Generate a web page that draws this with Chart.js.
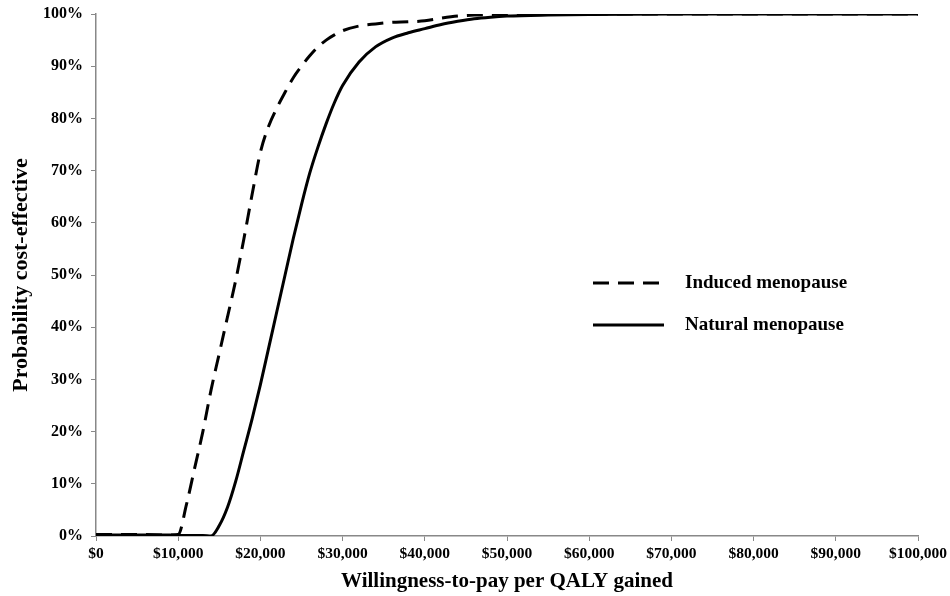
<!DOCTYPE html>
<html>
<head>
<meta charset="utf-8">
<script src="https://cdn.jsdelivr.net/npm/chart.js@4.4.0/dist/chart.umd.min.js"></script>
<style>
  html, body { margin: 0; padding: 0; background: #fff; }
  #wrap { width: 950px; height: 596px; }
</style>
</head>
<body>
<div id="wrap"><canvas id="ceac"></canvas></div>
<script>
// willingness-to-pay values ($ per QALY)
const wtp = [0, 5000, 9000, 10000, 11000, 12000, 13000, 14000, 15000, 16000, 17000, 18000,
  19000, 20000, 21000, 22000, 23000, 24000, 25000, 26000, 27000, 28000, 29000, 30000,
  32000, 34000, 36000, 38000, 40000, 42000, 44000, 46000, 48000, 50000, 55000, 60000,
  70000, 80000, 90000, 100000];

// probability cost-effective (%)
const induced = [0.3, 0.3, 0.2, 0.3, 6, 13, 20, 28, 35, 42, 49, 57,
  65.5, 73.5, 78.5, 82, 85, 87.8, 90, 92, 93.7, 95, 96, 96.8,
  97.7, 98.1, 98.4, 98.5, 98.7, 99.2, 99.6, 99.8, 99.9, 100, 100, 100,
  100, 100, 100, 100];

const natural = [0.2, 0.2, 0.2, 0.1, 0.1, 0.1, 0.1, 0, 2, 5.5, 10.5, 16.5,
  22.5, 29, 36, 43, 50, 57, 63.5, 69.5, 74.5, 79, 83, 86.3,
  90.8, 93.7, 95.4, 96.4, 97.2, 98, 98.6, 99.1, 99.4, 99.6, 99.8, 99.9,
  100, 100, 100, 100];

const seriesLabels = ['Induced menopause', 'Natural menopause'];
const xTickStep = 10000;
const yTickStep = 10;

const serif = "'Liberation Serif', 'Times New Roman', serif";

function toPoints(ys) {
  return wtp.map((x, i) => ({ x: x, y: ys[i] }));
}

// legend drawn inside the plot area
const innerLegend = {
  id: 'innerLegend',
  afterDraw(chart) {
    const ctx = chart.ctx;
    const rows = [{ y: 283, dash: [16, 9] }, { y: 325, dash: [] }];
    ctx.save();
    chart.data.datasets.forEach((ds, i) => {
      const r = rows[i];
      ctx.beginPath();
      ctx.setLineDash(r.dash);
      ctx.lineWidth = 3;
      ctx.strokeStyle = '#000';
      ctx.moveTo(593, r.y);
      ctx.lineTo(664, r.y);
      ctx.stroke();
      ctx.setLineDash([]);
      ctx.fillStyle = '#000';
      ctx.font = 'bold 19px ' + serif;
      ctx.textBaseline = 'middle';
      ctx.textAlign = 'left';
      ctx.fillText(ds.label, 685, r.y);
    });
    ctx.restore();
  }
};

new Chart(document.getElementById('ceac'), {
  type: 'line',
  data: {
    datasets: [{
      label: seriesLabels[0],
      data: toPoints(induced),
      borderColor: '#000',
      borderWidth: 3,
      borderDash: [16, 9],
      pointRadius: 0,
      cubicInterpolationMode: 'monotone',
      fill: false
    }, {
      label: seriesLabels[1],
      data: toPoints(natural),
      borderColor: '#000',
      borderWidth: 3,
      pointRadius: 0,
      cubicInterpolationMode: 'monotone',
      fill: false
    }]
  },
  options: {
    responsive: true,
    maintainAspectRatio: false,
    animation: false,
    layout: { padding: { top: 14, right: 32, bottom: 2, left: 0 } },
    plugins: {
      legend: { display: false },
      tooltip: { enabled: false }
    },
    scales: {
      x: {
        type: 'linear',
        min: 0,
        max: 100000,
        grid: { drawOnChartArea: false, color: '#888', tickLength: 5 },
        border: { color: '#888', width: 1.5 },
        ticks: {
          stepSize: xTickStep,
          maxRotation: 0,
          color: '#000',
          padding: 4,
          font: { family: serif, size: 15.5, weight: 'bold' },
          callback: v => '$' + v.toLocaleString('en-US')
        },
        title: {
          display: true,
          text: 'Willingness-to-pay per QALY gained',
          color: '#000',
          padding: { top: 2, bottom: 0 },
          font: { family: serif, size: 21, weight: 'bold' }
        },
        afterFit: s => { s.height = 58; s.paddingLeft = 0; s.paddingRight = 0; }
      },
      y: {
        min: 0,
        max: 100,
        grid: { drawOnChartArea: false, color: '#888', tickLength: 5 },
        border: { color: '#888', width: 1.5 },
        ticks: {
          stepSize: yTickStep,
          color: '#000',
          padding: 8,
          font: { family: serif, size: 16, weight: 'bold' },
          callback: v => v + '%'
        },
        title: {
          display: true,
          text: 'Probability cost-effective',
          color: '#000',
          padding: { top: 8, bottom: 4 },
          font: { family: serif, size: 22, weight: 'bold' }
        },
        afterFit: s => { s.width = 96; s.paddingTop = 0; s.paddingBottom = 0; }
      }
    }
  },
  plugins: [innerLegend]
});
</script>
</body>
</html>
